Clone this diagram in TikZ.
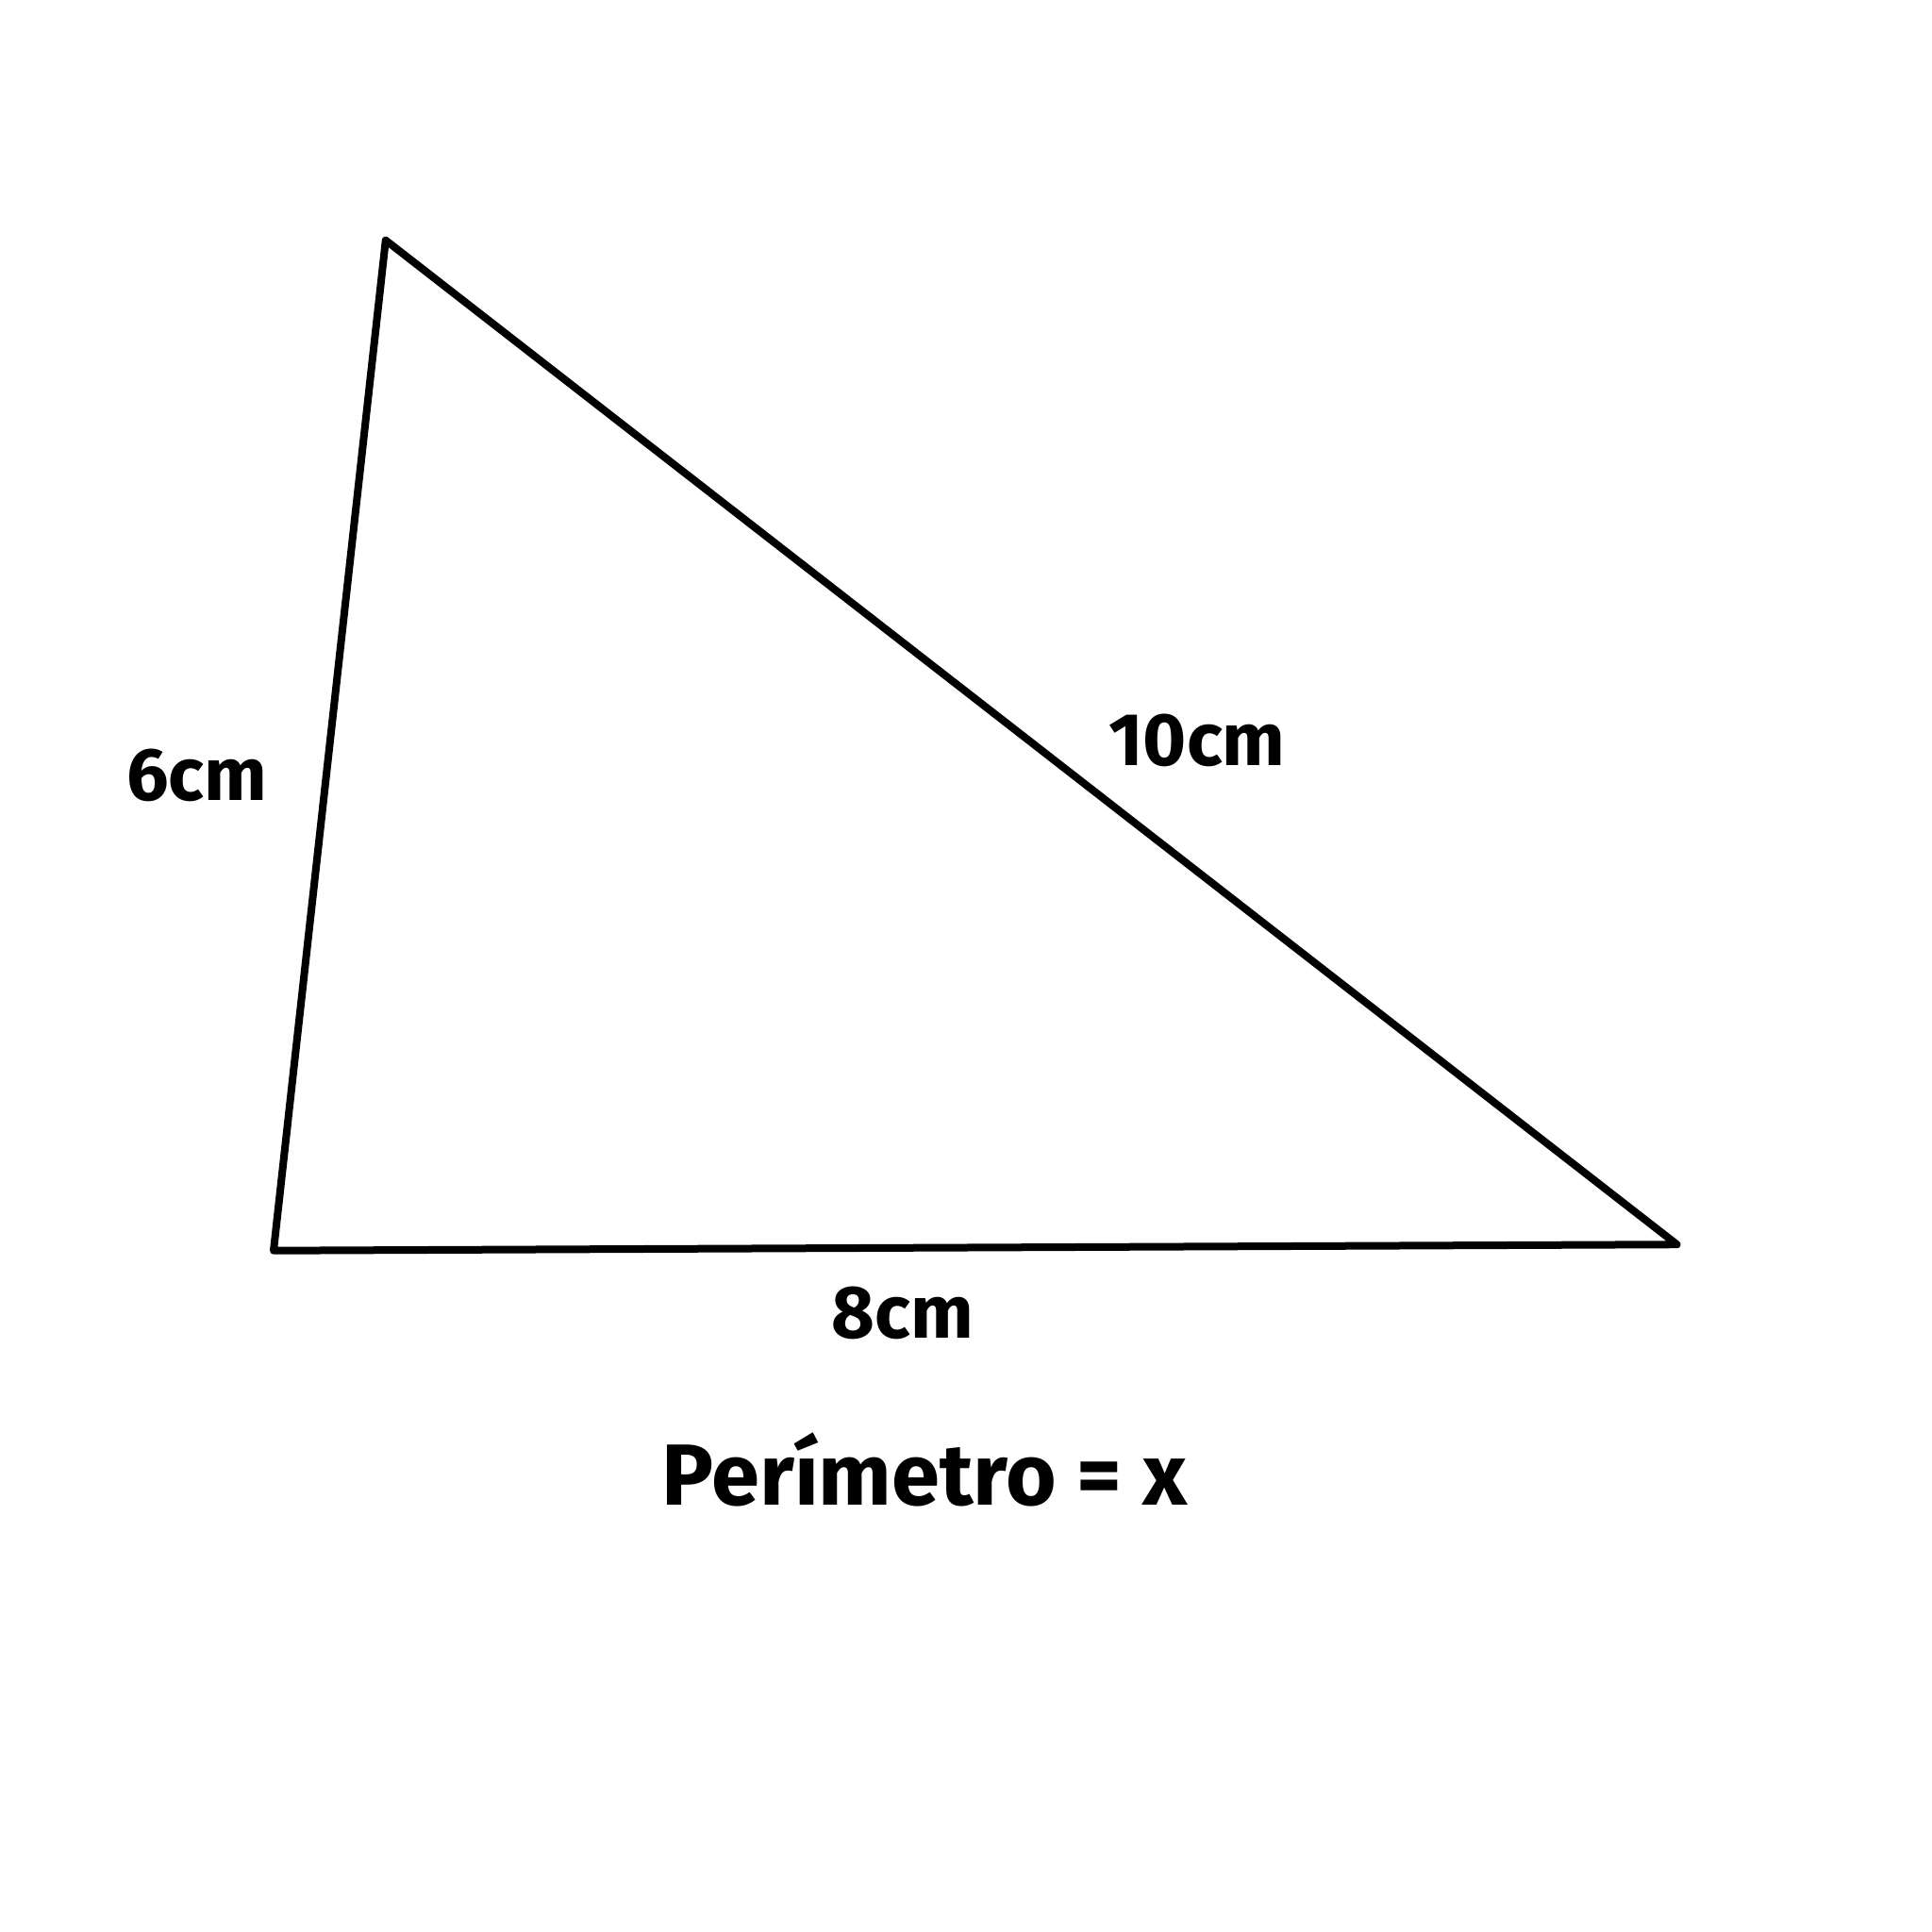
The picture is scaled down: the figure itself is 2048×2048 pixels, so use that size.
\documentclass[tikz,border=0pt]{standalone}
\usepackage{fontspec}
\setmainfont{Fira Sans}[UprightFont=* Bold]
\begin{document}
\begin{tikzpicture}[x=0.5pt,y=-0.5pt,
  edge/.style={line width=4pt,line join=round,line cap=round},
  lbl/.style={anchor=base,inner sep=0pt,font=\fontsize{39.5}{41}\selectfont},
  big/.style={anchor=base,inner sep=0pt,font=\fontsize{46}{48}\selectfont}]
\useasboundingbox (0,0) rectangle (2048,2048);
\coordinate (A) at (408.8,254.7);
\coordinate (B) at (290,1325.7);
\coordinate (C) at (1777.6,1319.2);
\draw[edge] (A) -- (B) -- (C) -- cycle;
\node[lbl] (l6) at (209,848) {6cm};
\node[lbl] (l10) at (1269,811) {10cm};
\node[lbl] (l8) at (957,1418) {8cm};
\node[big] (per) at (980,1595) {Perímetro = x};
\end{tikzpicture}
\end{document}
